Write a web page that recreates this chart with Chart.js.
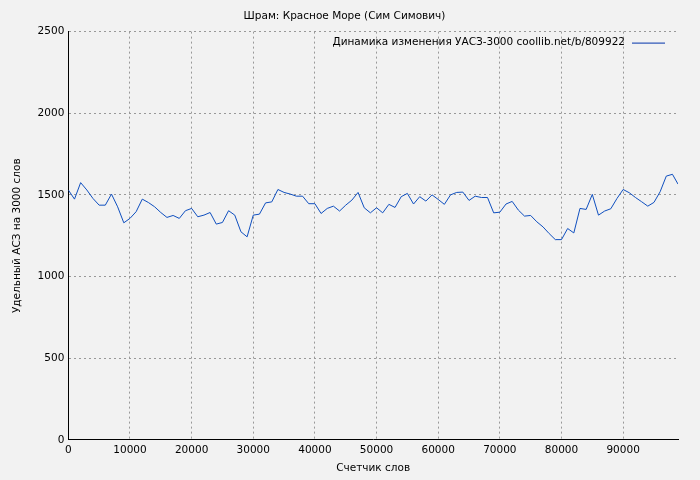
<!DOCTYPE html>
<html><head><meta charset="utf-8">
<script src="https://cdn.jsdelivr.net/npm/chart.js@4/dist/chart.umd.min.js"></script>
<style>html,body{margin:0;background:#f2f2f2}#w{width:700px;height:480px}</style>
</head><body><div id="w"><canvas id="c"></canvas></div>
<script>
const words = [0,1000,2000,3000,4000,5000,6000,7000,8000,9000,10000,11000,12000,13000,14000,15000,16000,17000,18000,19000,20000,21000,22000,23000,24000,25000,26000,27000,28000,29000,30000,31000,32000,33000,34000,35000,36000,37000,38000,39000,40000,41000,42000,43000,44000,45000,46000,47000,48000,49000,50000,51000,52000,53000,54000,55000,56000,57000,58000,59000,60000,61000,62000,63000,64000,65000,66000,67000,68000,69000,70000,71000,72000,73000,74000,75000,76000,77000,78000,79000,80000,81000,82000,83000,84000,85000,86000,87000,88000,89000,90000,91000,92000,93000,94000,95000,96000,97000,98000,98900];
const values = [1530,1474,1575,1530,1478,1437,1437,1505,1427,1329,1356,1397,1474,1453,1427,1392,1362,1374,1356,1403,1417,1366,1376,1392,1321,1331,1403,1376,1274,1243,1376,1382,1451,1457,1533,1515,1505,1492,1492,1446,1446,1386,1417,1431,1401,1437,1468,1515,1421,1390,1421,1390,1442,1423,1489,1509,1444,1489,1462,1500,1472,1442,1500,1515,1517,1466,1492,1484,1484,1390,1394,1444,1460,1407,1370,1374,1335,1304,1263,1226,1226,1294,1267,1417,1411,1503,1376,1401,1415,1478,1533,1513,1484,1458,1431,1454,1519,1615,1626,1566];
const xTicks = [0,10000,20000,30000,40000,50000,60000,70000,80000,90000];
const yTicks = [0,500,1000,1500,2000,2500];
const seriesName = 'Динамика изменения УАСЗ-3000 coollib.net/b/809922';
const titleText = 'Шрам: Красное Море (Сим Симович)';
Chart.defaults.font.family = 'DejaVu Sans';
Chart.defaults.font.size = 10.5;
Chart.defaults.color = '#000';
const legendPlugin = {id:'lg', afterDraw(ch){
  const c=ch.ctx, a=ch.chartArea;
  c.save(); c.font='10.5px DejaVu Sans'; c.fillStyle='#000'; c.textAlign='right'; c.textBaseline='middle';
  const y=a.top+11; c.fillText(seriesName, a.right-53, y);
  c.strokeStyle='#0033aa'; c.lineWidth=1; c.beginPath(); c.moveTo(a.right-46,y+0.5); c.lineTo(a.right-13,y+0.5); c.stroke();
  c.restore();
}};
new Chart(document.getElementById('c'), {
  type:'line',
  data:{datasets:[{label:seriesName, data:words.map((w,i)=>({x:w,y:values[i]})), borderColor:'#0f4fbf', borderWidth:1, pointRadius:0, tension:0}]},
  options:{responsive:true, maintainAspectRatio:false, animation:false,
    layout:{padding:{left:11,right:22,top:1,bottom:5}},
    plugins:{legend:{display:false}, tooltip:{enabled:false},
      title:{display:true, text:titleText, font:{size:10.5,weight:'normal'}, padding:{top:9,bottom:9}}},
    scales:{
      x:{type:'linear', min:0, max:98900,
        afterBuildTicks:s=>{s.ticks=xTicks.map(v=>({value:v}));},
        ticks:{autoSkip:false, callback:v=>String(v), maxRotation:0, padding:4},
        grid:{color:'#999', drawTicks:false}, border:{color:'#000', dash:[2,3]},
        title:{display:true, text:'Счетчик слов', padding:{top:2,bottom:0}}},
      y:{min:0, max:2500,
        afterBuildTicks:s=>{s.ticks=yTicks.map(v=>({value:v}));},
        ticks:{callback:v=>String(v), padding:4},
        grid:{color:'#999', drawTicks:false}, border:{color:'#000', dash:[2,3]},
        title:{display:true, text:'Удельный АСЗ на 3000 слов', padding:{top:0,bottom:10}}}
    }},
  plugins:[legendPlugin]
});
</script></body></html>
